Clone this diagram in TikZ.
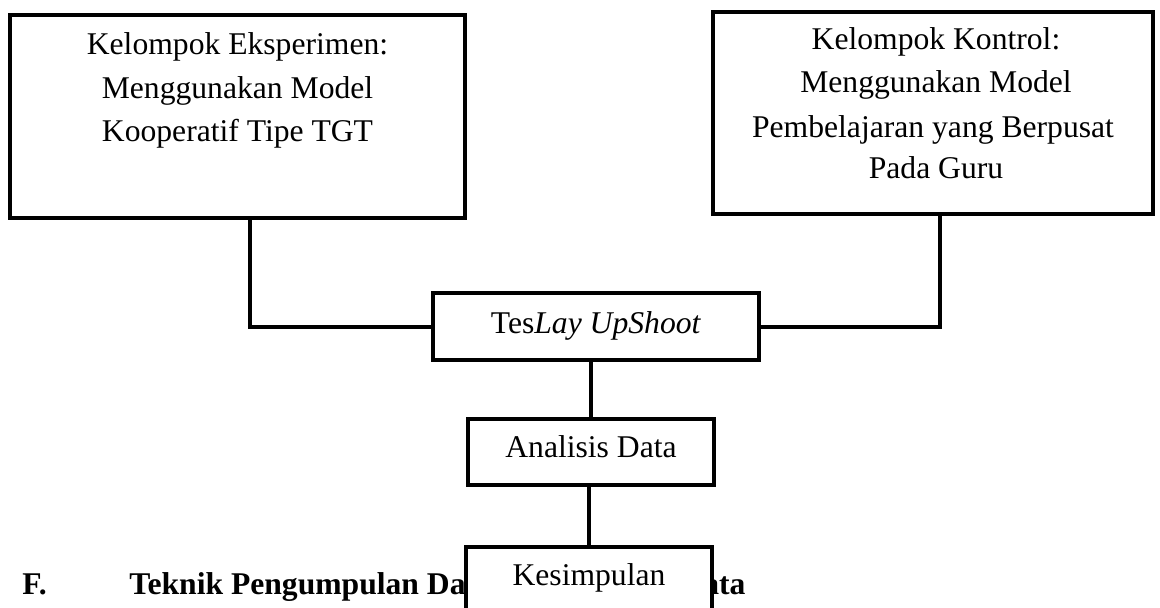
\documentclass[tikz,border=0pt]{standalone}
\usepackage{fontspec}
\setmainfont{Liberation Serif}

\tikzset{
  kotak/.style={draw, fill=white, line width=.08cm, inner sep=0pt},
  teks/.style={font=\fontsize{18}{22}\selectfont, anchor=base, inner sep=0pt},
  judul/.style={font=\fontsize{18}{22}\selectfont\bfseries, anchor=base west, inner sep=0pt},
  garis/.style={line width=.08cm},
}

\begin{document}
\begin{tikzpicture}[x=.02cm,y=-.02cm]
  \useasboundingbox (0,0) rectangle (1160,608);
  \clip (0,0) rectangle (1160,608);
  % judul di belakang kotak
  \node[judul] (hF) at (22,594) {F.};
  \node[judul] (h1) at (129,594) {Teknik Pengumpulan Da};
  \node[judul] (h2) at (703,594) {ata};
  % kotak
  \node[kotak, minimum width=9.1cm, minimum height=4.06cm] (eksp) at (237.5,116.5) {};
  \node[kotak, minimum width=8.8cm, minimum height=4.04cm] (kontrol) at (933,113) {};
  \node[kotak, minimum width=6.52cm, minimum height=1.34cm] (tes) at (596,326.5) {};
  \node[kotak, minimum width=4.92cm, minimum height=1.32cm] (analisis) at (591,452) {};
  \node[kotak, minimum width=4.92cm, minimum height=1.32cm] (simpul) at (589,580) {};
  % garis penghubung
  \draw[garis] ([xshift=.25cm]eksp.south) |- (tes.west);
  \draw[garis] ([xshift=.14cm]kontrol.south) |- (tes.east);
  \draw[garis] (analisis.north) -- (analisis.north |- tes.south);
  \draw[garis] (simpul.north) -- (simpul.north |- analisis.south);
  % isi kotak
  \node[teks] (e1) at (237.5,55) {Kelompok Eksperimen:};
  \node[teks] (e2) at (237.5,99) {Menggunakan Model};
  \node[teks] (e3) at (237.5,142) {Kooperatif Tipe TGT};
  \node[teks] (k1) at (936,50) {Kelompok Kontrol:};
  \node[teks] (k2) at (936,93) {Menggunakan Model};
  \node[teks] (k3) at (933,137) {Pembelajaran yang Berpusat};
  \node[teks] (k4) at (936,178) {Pada Guru};
  \node[teks] (t1) at (596,333) {Tes\textit{Lay UpShoot}};
  \node[teks] (a1) at (591,457) {Analisis Data};
  \node[teks] (s1) at (589,585) {Kesimpulan};
\end{tikzpicture}
\end{document}
